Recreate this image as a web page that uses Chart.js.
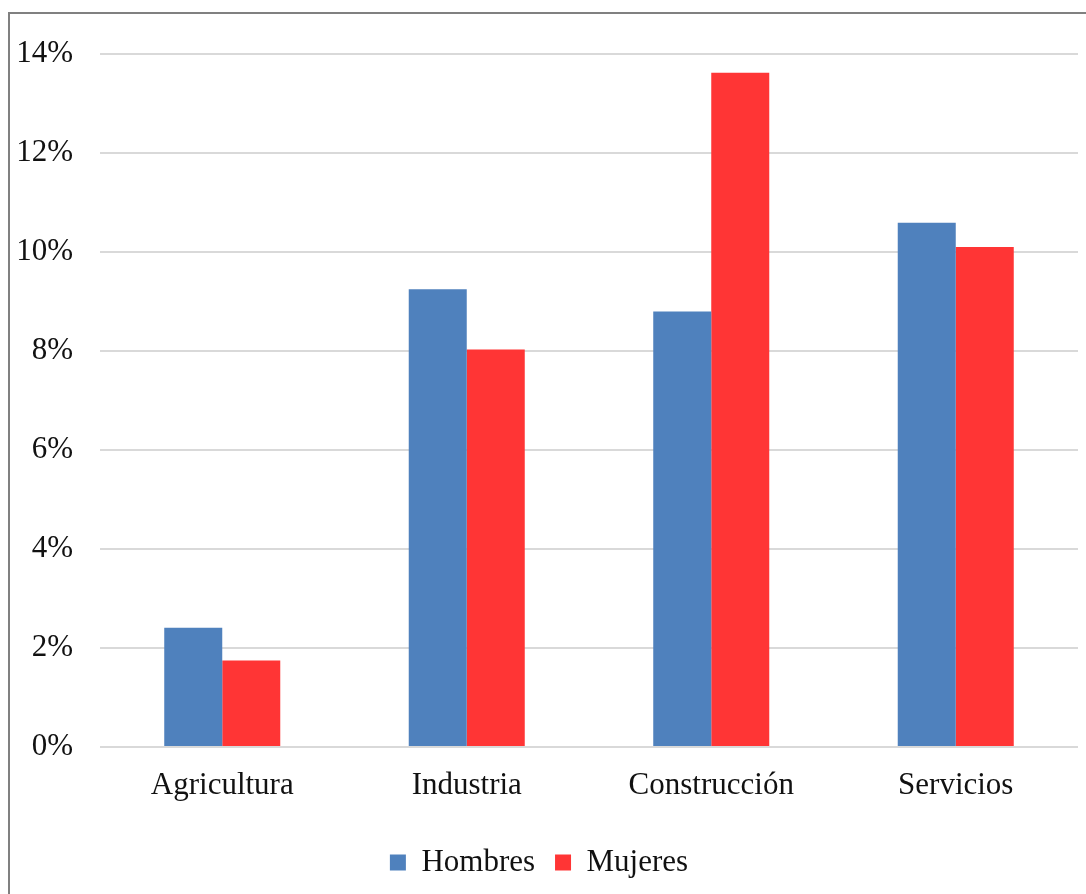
<!DOCTYPE html>
<html>
<head>
<meta charset="utf-8">
<script src="https://cdn.jsdelivr.net/npm/chart.js@4"></script>
<style>
  html, body { margin: 0; padding: 0; background: #fff; }
  #wrap { position: absolute; left: 0; top: 0; width: 1086px; height: 894px; }
  #frame {
    position: absolute; left: 8px; top: 12px; width: 1100px; height: 900px;
    border-left: 2px solid #808080; border-top: 2px solid #808080; pointer-events: none;
  }
</style>
</head>
<body>
<div id="wrap"><canvas id="chart"></canvas></div>
<div id="frame"></div>
<script>
// datos del gráfico
const categorias = ['Agricultura', 'Industria', 'Construcción', 'Servicios'];
const hombres = [2.41, 9.25, 8.8, 10.59];
const mujeres = [1.75, 8.03, 13.62, 10.1];
const yMax = 14;
const yStep = 2;

const fuente = { family: "'Liberation Serif', 'Times New Roman', serif", size: 31 };

new Chart(document.getElementById('chart'), {
  type: 'bar',
  data: {
    labels: categorias,
    datasets: [
      { label: 'Hombres', data: hombres, backgroundColor: '#4F81BD' },
      { label: 'Mujeres', data: mujeres, backgroundColor: '#FF3535' }
    ]
  },
  options: {
    responsive: true,
    maintainAspectRatio: false,
    animation: false,
    layout: { padding: { top: 54, right: 8, left: 0, bottom: 6 } },
    datasets: { bar: { categoryPercentage: 0.4745, barPercentage: 1 } },
    plugins: {
      tooltip: { enabled: false },
      legend: {
        position: 'bottom',
        labels: {
          color: '#111',
          font: fuente,
          boxWidth: 16,
          boxHeight: 16,
          padding: 20
        }
      }
    },
    scales: {
      x: {
        grid: { display: false, drawTicks: false },
        border: { display: false },
        ticks: { color: '#111', font: fuente, padding: 20 },
        afterFit: s => { s.height = 80; }
      },
      y: {
        min: 0,
        max: yMax,
        border: { display: false },
        grid: { color: '#d9d9d9', lineWidth: 2, drawTicks: false },
        ticks: {
          stepSize: yStep,
          color: '#111',
          font: fuente,
          padding: 27,
          callback: v => v + '%'
        },
        afterFit: s => { s.width = 100; }
      }
    }
  }
});
</script>
</body>
</html>
